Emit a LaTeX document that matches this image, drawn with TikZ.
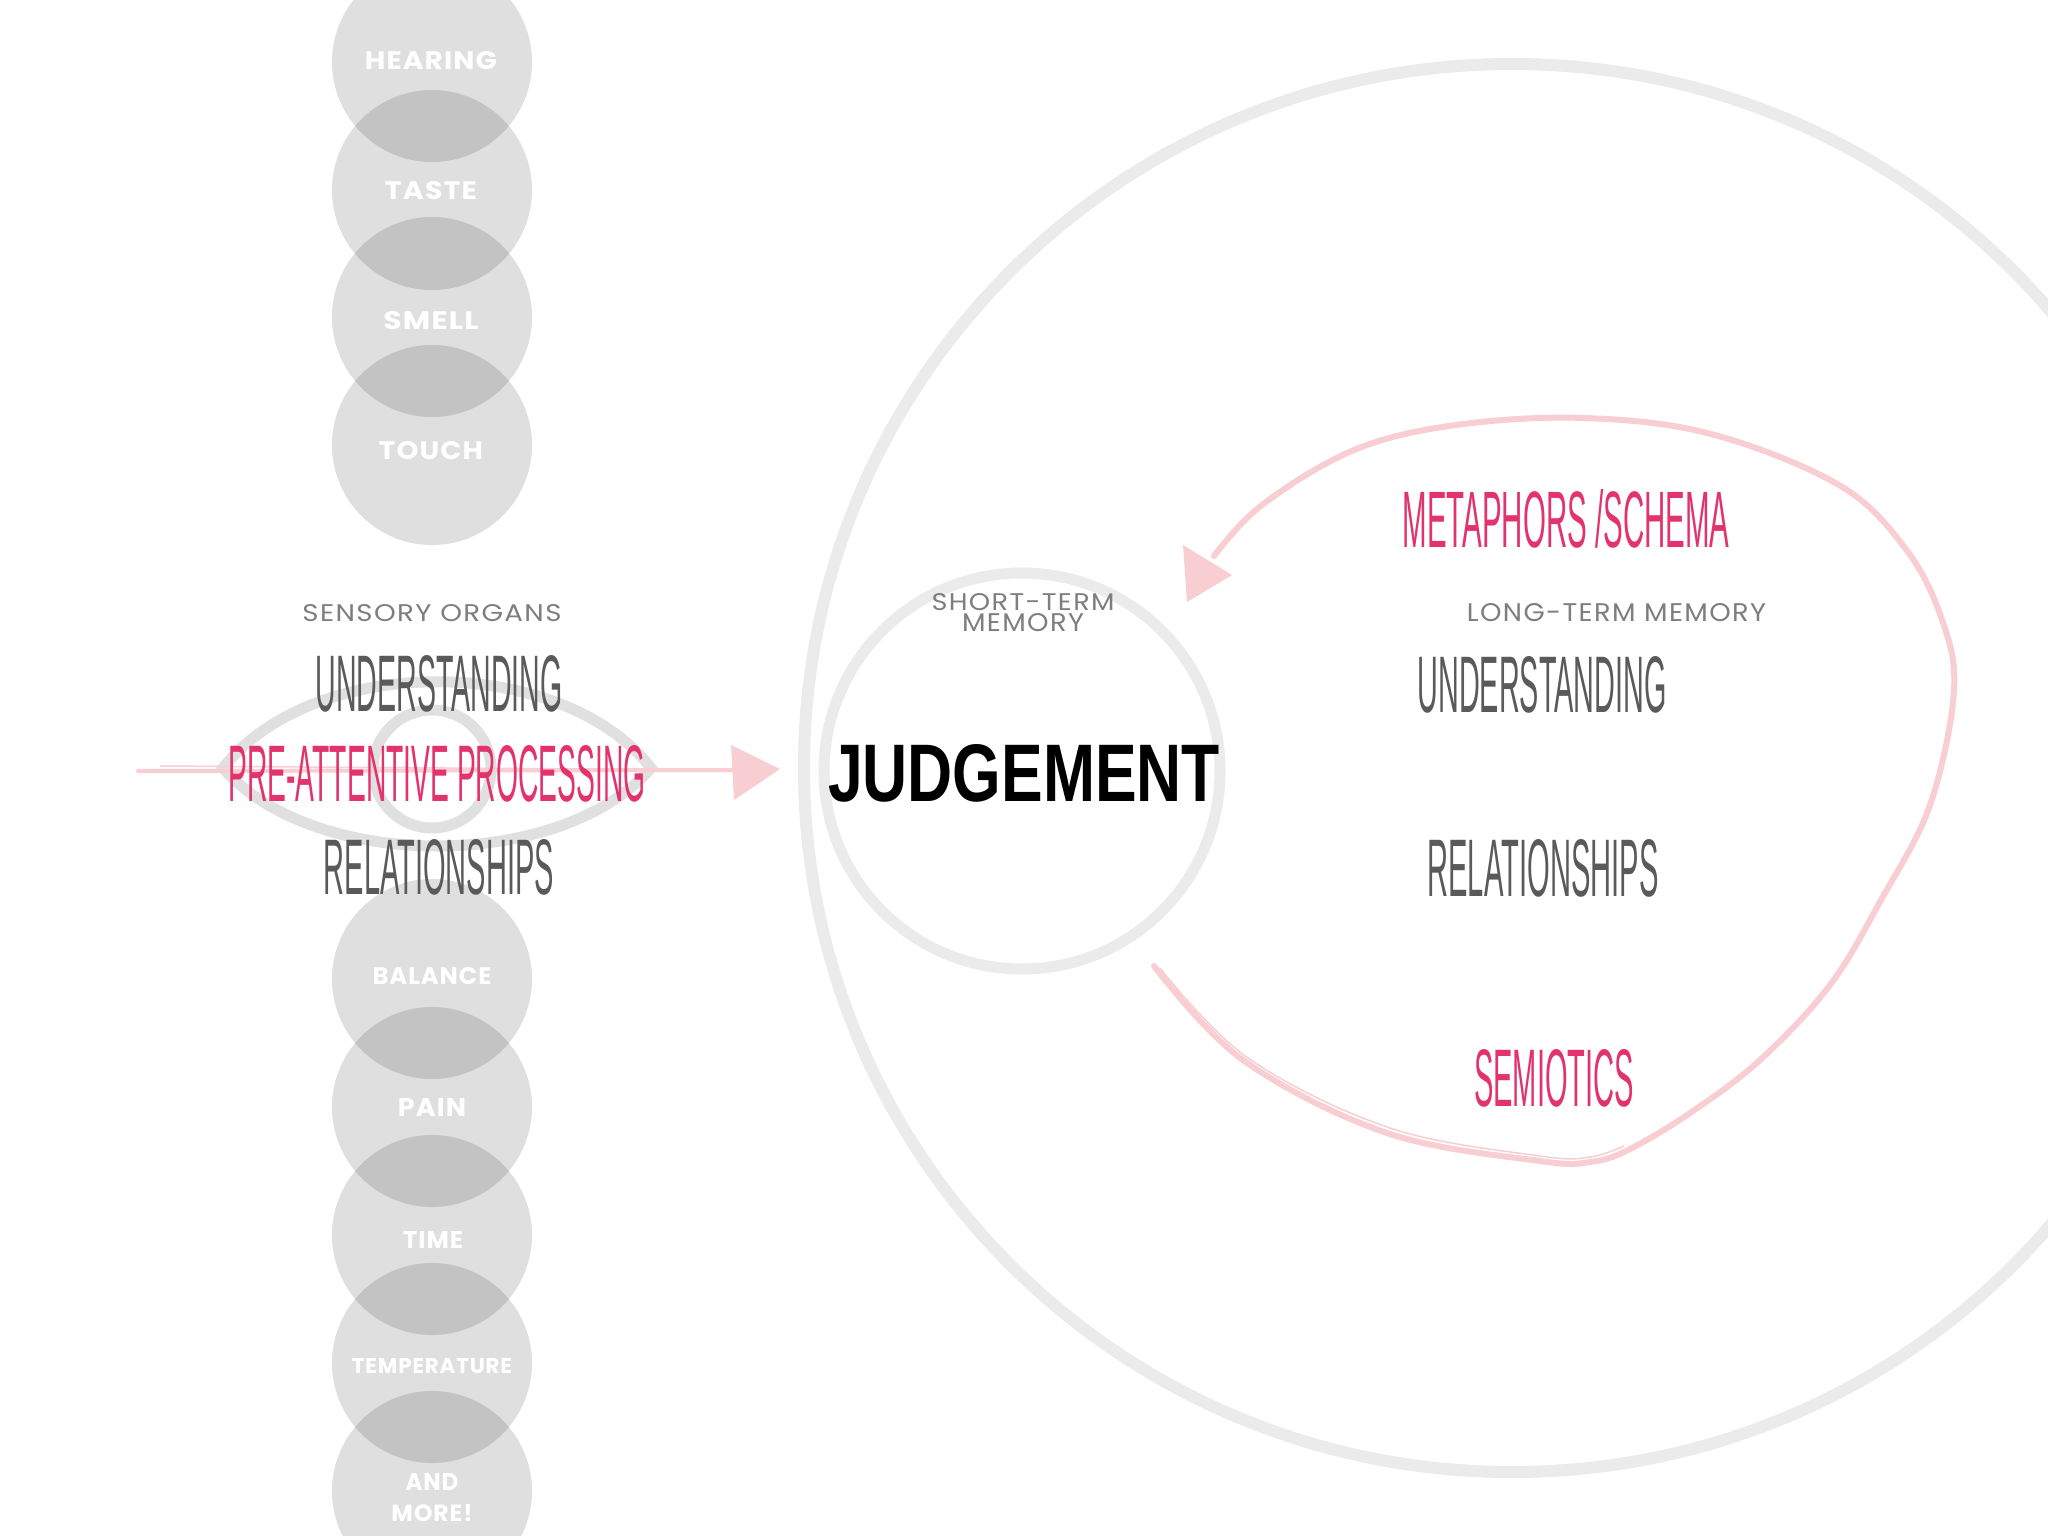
\documentclass[tikz,border=0pt]{standalone}
\usepackage{fontspec}
\usepackage{graphicx}
\newfontfamily\condf{Liberation Sans}
\newfontfamily\geof[LetterSpace=5]{Poppins}
\newfontfamily\geow[LetterSpace=4]{Poppins}
\newcommand{\fitbox}[3]{\resizebox{#1pt}{#2pt}{#3}}
\definecolor{ringgray}{HTML}{EBEBEB}
\definecolor{eyegray}{HTML}{E0E0E0}
\definecolor{brushpink}{HTML}{F8CED2}
\definecolor{hotpink}{HTML}{E2336C}
\definecolor{darktext}{HTML}{5A5A5A}
\definecolor{lighttext}{HTML}{7E7E7E}
\begin{document}
\begin{tikzpicture}[x=1pt,y=-1pt,
  sense/.style={circle, minimum size=200pt, inner sep=0pt, fill=black, fill opacity=0.125, draw=none},
  senselabel/.style={inner sep=0pt, text=white, align=center},
  bigtext/.style={inner sep=0pt, text=darktext},
  pinktxt/.style={inner sep=0pt, text=hotpink},
  smalltxt/.style={inner sep=0pt, text=lighttext, align=center},
  ring/.style={draw=ringgray, line width=12pt},
  eyeline/.style={draw=eyegray, line width=11pt},
  brush/.style={draw=brushpink, line width=6pt, line cap=round},
  brushhead/.style={fill=brushpink}
]
\useasboundingbox (0,0) rectangle (2048,1536);
\clip (0,0) rectangle (2048,1536);
\fill[white] (0,0) rectangle (2048,1536);

% long-term memory ring
\draw[ring] (1512,768) ellipse [x radius=708pt, y radius=704pt];
% short-term memory ring
\node[circle, draw=ringgray, line width=11pt, minimum size=396pt, inner sep=0pt] (stm) at (1022,771) {};

% sensory circles
\node[sense] (c1) at (432,62) {};
\node[sense] (c2) at (432,190) {};
\node[sense] (c3) at (432,317) {};
\node[sense] (c4) at (432,445) {};
\node[sense] (c5) at (432,979) {};
\node[sense] (c6) at (432,1107) {};
\node[sense] (c7) at (432,1235) {};
\node[sense] (c8) at (432,1363) {};
\node[sense] (c9) at (432,1491) {};

\node[senselabel] (lhearing) at (431,61) {\fitbox{132}{18}{\geow\bfseries HEARING}};
\node[senselabel] (ltaste) at (431,191) {\fitbox{92}{18}{\geow\bfseries TASTE}};
\node[senselabel] (lsmell) at (431,321) {\fitbox{95}{18}{\geow\bfseries SMELL}};
\node[senselabel] (ltouch) at (431,451) {\fitbox{104}{18}{\geow\bfseries TOUCH}};
\node[senselabel] (lbalance) at (432,976) {\fitbox{119}{17}{\geow\bfseries BALANCE}};
\node[senselabel] (lpain) at (432,1107) {\fitbox{68}{18}{\geow\bfseries PAIN}};
\node[senselabel] (ltime) at (433,1240) {\fitbox{60}{17}{\geow\bfseries TIME}};
\node[senselabel] (ltemp) at (432,1366) {\fitbox{160}{15}{\geow\bfseries TEMPERATURE}};
\node[senselabel] (lmore) at (432,1497.5) {\fitbox{53}{17}{\geow\bfseries AND}\\[13.5pt]\fitbox{81}{17}{\geow\bfseries MORE!}};

% eye
\coordinate (eL) at (223,768);
\coordinate (eR) at (651,768);
\draw[eyeline] (eL) .. controls (313,653) and (561,653) .. (eR)
               .. controls (561,872) and (313,872) .. (eL) -- cycle;
\node[circle, eyeline, minimum size=118pt, inner sep=0pt] (iris) at (432,769) {};

% pre-attentive arrow
\coordinate (aS) at (138,771);
\coordinate (aE) at (734,770);
\draw[brush, line width=4pt] (aS) -- (aE);
\draw[draw=brushpink, line width=1.5pt] (160,766) -- (aE);
\fill[brushhead] (731,745) -- (780,769) -- (734,800) -- cycle;

% long-term loop arrow
\draw[brush] plot[smooth, tension=0.6] coordinates {(1154,966) (1243,1060) (1387,1133) (1540,1161) (1590,1162) (1628,1150) (1690,1113) (1760,1060) (1830,985) (1881,900) (1930,805) (1954,690) (1941,617) (1905,548) (1839,485) (1711,434) (1584,418) (1456,425) (1354,450) (1262,505) (1214,556)};
\draw[draw=brushpink, line width=1.5pt] plot[smooth, tension=0.6] coordinates {(1160,968) (1248,1058) (1390,1128) (1540,1156) (1590,1157) (1624,1146)};
\fill[brushhead] (1183,545) -- (1232,575) -- (1187,602) -- cycle;

% texts left
\node[smalltxt] (sens) at (432,613) {\fitbox{259}{17}{\geof SENSORY ORGANS}};
\node[bigtext] (undL) at (439,684) {\fitbox{247}{56}{\condf UNDERSTANDING}};
\node[pinktxt] (pap) at (437,774) {\fitbox{417}{56}{\condf PRE-ATTENTIVE PROCESSING}};
\node[bigtext] (relL) at (439,867) {\fitbox{230}{55}{\condf RELATIONSHIPS}};

% centre
\node[smalltxt] (stmlabel) at (1023,612.5) {\fitbox{183}{17}{\geof SHORT-TERM}\\[2pt]\fitbox{122}{18}{\geof MEMORY}};
\node[inner sep=0pt, text=black] (judge) at (1024,773.5) {\fitbox{392}{57}{\condf\bfseries JUDGEMENT}};

% right
\node[pinktxt] (meta) at (1566,519) {\fitbox{327}{58}{\condf METAPHORS /SCHEMA}};
\node[smalltxt] (ltm) at (1616.5,613) {\fitbox{299}{18}{\geof LONG-TERM MEMORY}};
\node[bigtext] (undR) at (1542,684.5) {\fitbox{249}{56}{\condf UNDERSTANDING}};
\node[bigtext] (relR) at (1543,868) {\fitbox{231}{57}{\condf RELATIONSHIPS}};
\node[pinktxt] (semi) at (1554,1078) {\fitbox{160}{57}{\condf SEMIOTICS}};
\end{tikzpicture}
\end{document}
